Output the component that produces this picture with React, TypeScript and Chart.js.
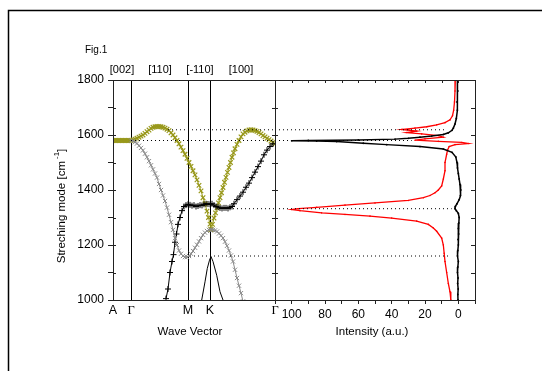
import React, { useEffect, useRef } from "react";
import { Chart, registerables } from "chart.js";
Chart.register(...registerables);

const W = 542;
const H = 371;
const FONT = "'Liberation Sans', Arial, sans-serif";
const SERIF = "'Liberation Serif', 'Times New Roman', serif";

// ---- Left panel: wave-vector path ----
const pathTickPos = [0, 18, 75, 97, 162];
const pathTickLabels = ["A", "Γ", "M", "K", "Γ"];
const directionLabels = ["[002]", "[110]", "[-110]", "[100]"];
const directionPos = [9, 47, 87, 128];

const waveTicks = [1000, 1100, 1200, 1300, 1400, 1500, 1600, 1700, 1800];
const waveLabelled = [1000, 1200, 1400, 1600, 1800];

// Olive branch A -> Γ -> K
const oliveAQ = [0, 1.5, 3, 4.5, 6, 7.5, 9, 10.5, 12, 13.5, 15, 16.5, 18, 20, 22, 24, 26, 28, 30, 32, 34, 36, 38, 40, 42, 44, 46, 48, 50, 52, 54, 56, 58, 60, 62, 64, 66, 68, 70, 72, 74, 76, 78, 80, 82, 84, 86, 88, 90, 92, 94, 95.5, 97, 98];
const oliveAW = [1580, 1580, 1580, 1580, 1580, 1580, 1580, 1580, 1580, 1580, 1580, 1580, 1580, 1582, 1585, 1588, 1592, 1596, 1600, 1606, 1612, 1618, 1624, 1628, 1630, 1631, 1631, 1630, 1628, 1625, 1621, 1616, 1608, 1600, 1590, 1580, 1568, 1556, 1543, 1530, 1515, 1500, 1486, 1470, 1455, 1437, 1417, 1397, 1372, 1350, 1323, 1300, 1276, 1256];
// Olive branch K -> Γ
const oliveBQ = [98, 99.5, 101, 102.5, 104, 105.5, 107, 108.5, 110, 111.5, 113, 114.5, 116, 117.5, 119, 120.5, 122, 124, 126, 128, 130, 132, 134, 136, 138, 140, 142, 144, 146, 148, 150, 152, 154, 156, 158, 160, 162];
const oliveBW = [1256, 1275, 1298, 1317, 1335, 1353, 1372, 1390, 1409, 1428, 1446, 1464, 1482, 1500, 1519, 1535, 1550, 1566, 1580, 1593, 1604, 1610, 1615, 1618, 1619, 1618, 1616, 1613, 1609, 1604, 1598, 1593, 1588, 1583, 1578, 1573, 1568];
// Gray branch
const grayQ = [18, 20, 22, 24, 26, 28, 30, 32, 34, 36, 38, 40, 42, 44, 46, 48, 50, 52, 54, 56, 58, 60, 62, 64, 66, 68, 70, 72, 74, 76, 78, 80, 82, 84, 86, 88, 90, 92, 94, 96, 98, 100, 102, 104, 106, 108, 110, 112, 114, 116, 118, 120, 122, 124, 126, 128, 130];
const grayW = [1580, 1578, 1574, 1569, 1561, 1553, 1544, 1532, 1519, 1505, 1490, 1475, 1460, 1445, 1422, 1400, 1380, 1360, 1336, 1310, 1283, 1255, 1225, 1200, 1180, 1168, 1160, 1156, 1156, 1160, 1168, 1178, 1190, 1201, 1213, 1225, 1237, 1245, 1251, 1255, 1256, 1255, 1253, 1249, 1242, 1234, 1225, 1212, 1197, 1180, 1162, 1140, 1110, 1080, 1052, 1025, 995];
// Black "+" branch
const plusQ = [53, 55, 57, 59, 60.5, 62, 63.5, 65, 67, 69, 71, 73, 75, 77, 79, 81, 83, 85, 87, 89, 91, 93, 95, 97, 99, 101, 103, 105, 107, 109, 111, 113, 115, 117, 119, 121, 124, 127, 130, 133, 136, 139, 142, 145, 148, 151, 154, 157, 160];
const plusW = [1005, 1040, 1100, 1140, 1165, 1210, 1240, 1275, 1300, 1325, 1340, 1345, 1348, 1346, 1343, 1345, 1340, 1342, 1345, 1344, 1348, 1350, 1349, 1348, 1350, 1345, 1340, 1338, 1335, 1333, 1335, 1335, 1333, 1337, 1340, 1350, 1365, 1378, 1392, 1410, 1425, 1445, 1465, 1485, 1505, 1528, 1545, 1558, 1568];
// Solid black branch near K
const kCurveQ = [88.7, 92, 94.3, 96.5, 98, 100, 103.7, 107, 110];
const kCurveW = [1000, 1066, 1115, 1145, 1158, 1140, 1090, 1030, 1000];

// Dotted mode lines
const modeWaves = [1619, 1580, 1332, 1160];
const modeStartQ = [55, 18, 120, 77];
const modeEndI = [7, 28, 4, 6];

// ---- Right panel: spectra ----
const intensityTicks = [110, 100, 90, 80, 70, 60, 50, 40, 30, 20, 10, 0, -10];
const intensityLabelled = [100, 80, 60, 40, 20, 0];

const blackWave = [1800, 1760, 1720, 1690, 1660, 1640, 1625, 1617, 1608, 1602, 1596, 1592, 1588, 1585, 1582, 1580, 1579, 1578, 1576, 1570, 1565, 1558, 1549, 1537, 1520, 1500, 1480, 1460, 1440, 1420, 1400, 1380, 1365, 1350, 1340, 1332, 1325, 1315, 1300, 1280, 1260, 1240, 1220, 1200, 1180, 1160, 1140, 1120, 1100, 1080, 1060, 1040, 1020, 1000];
const blackInt = [0.5, 0.3, 0.8, 0.6, 1.2, 2, 3, 3.8, 6, 9, 16, 23, 30, 38, 60, 90, 100, 85, 73, 57, 43, 23, 9, 3.8, 1.5, 0.8, 0.5, 0, -0.5, -1, -1.5, -1.2, -0.5, 0.8, 1.8, 2, 1.2, 0, -0.5, -0.3, 0, -0.2, 0.2, 0, 0.3, 0.5, 0, 0.3, 0.5, 0.2, 0.4, 0.1, 0.3, 0.2];

const redWave = [1800, 1760, 1720, 1690, 1670, 1655, 1645, 1637, 1630, 1625, 1620, 1614, 1609, 1604, 1598, 1592, 1586, 1581, 1577, 1573, 1569, 1565, 1558, 1545, 1530, 1500, 1470, 1440, 1415, 1400, 1390, 1380, 1372, 1362, 1353, 1345, 1337, 1332, 1329, 1325, 1317, 1311, 1305, 1298, 1287, 1275, 1262, 1250, 1225, 1200, 1170, 1140, 1100, 1060, 1030, 1000];
const redInt = [1.8, 2, 2.3, 2.8, 3.5, 5, 8, 13, 19, 26, 34, 25, 31, 22, 12, 9, 20, 26, 12, -2, -6, 2, 5.5, 6.5, 7, 8, 8, 9, 10, 12, 14, 17, 21, 30, 50, 68, 85, 96, 100, 95, 82, 68, 53, 40, 25, 18, 15, 13, 10, 9, 8.5, 8, 7, 6, 5, 4.5];

const OLIVE = "#98981a";
const GRAY = "#8a8a8a";

const pts = (xs: number[], ys: number[]) => xs.map((x, i) => ({ x, y: ys[i] }));

function crisp(v: number) {
  return Math.round(v) + 0.5;
}

const leftDecor = {
  id: "leftDecor",
  beforeDatasetsDraw(chart: any) {
    const { ctx, chartArea, scales } = chart;
    ctx.save();
    ctx.strokeStyle = "#000";
    ctx.lineWidth = 1;
    for (let i = 1; i < pathTickPos.length - 1; i++) {
      const px = crisp(scales.x.getPixelForValue(pathTickPos[i]));
      ctx.beginPath();
      ctx.moveTo(px, chartArea.top);
      ctx.lineTo(px, chartArea.bottom);
      ctx.stroke();
    }
    ctx.restore();
  },
  afterDraw(chart: any) {
    const { ctx, chartArea, scales } = chart;
    const { left, right, top, bottom } = chartArea;
    ctx.save();
    // page frame
    ctx.strokeStyle = "#000";
    ctx.lineWidth = 1.5;
    ctx.beginPath();
    ctx.moveTo(8.5, H);
    ctx.lineTo(8.5, 10.5);
    ctx.lineTo(W, 10.5);
    ctx.stroke();
    // panel frame
    ctx.lineWidth = 1;
    ctx.strokeStyle = "#222";
    ctx.strokeRect(crisp(left), crisp(top), Math.round(right - left), Math.round(bottom - top));
    // inward ticks
    for (const v of waveTicks) {
      const py = crisp(scales.y.getPixelForValue(v));
      ctx.beginPath();
      ctx.moveTo(left, py);
      ctx.lineTo(left + 3, py);
      ctx.moveTo(right, py);
      ctx.lineTo(right - 3, py);
      ctx.stroke();
    }
    // texts
    ctx.fillStyle = "#000";
    ctx.textBaseline = "middle";
    ctx.textAlign = "left";
    ctx.font = `10px ${FONT}`;
    ctx.fillText("Fig.1", 85, 50);
    ctx.textAlign = "center";
    ctx.font = `11px ${FONT}`;
    directionLabels.forEach((t, i) => {
      ctx.fillText(t, scales.x.getPixelForValue(directionPos[i]), 70);
    });
    ctx.font = `11.5px ${FONT}`;
    ctx.fillText("Wave Vector", 190, 332);
    // y title
    ctx.translate(62, 206);
    ctx.rotate(-Math.PI / 2);
    const main = "Streching mode [cm";
    const sup = "-1";
    const end = "]";
    ctx.font = `11.5px ${FONT}`;
    const wMain = ctx.measureText(main).width;
    const wEnd = ctx.measureText(end).width;
    ctx.font = `8px ${FONT}`;
    const wSup = ctx.measureText(sup).width;
    const total = wMain + 2 + wSup + wEnd;
    let x0 = -total / 2;
    ctx.textAlign = "left";
    ctx.font = `11.5px ${FONT}`;
    ctx.fillText(main, x0, 0);
    x0 += wMain + 2;
    ctx.font = `8px ${FONT}`;
    ctx.fillText(sup, x0, -5);
    x0 += wSup;
    ctx.font = `11.5px ${FONT}`;
    ctx.fillText(end, x0, 0);
    ctx.restore();
  },
};

const rightDecor = {
  id: "rightDecor",
  afterDraw(chart: any) {
    const { ctx, chartArea, scales } = chart;
    const { left, right, top, bottom } = chartArea;
    ctx.save();
    ctx.strokeStyle = "#222";
    ctx.lineWidth = 1;
    ctx.strokeRect(crisp(left), crisp(top), Math.round(right - left), Math.round(bottom - top));
    for (const v of intensityTicks) {
      const px = crisp(scales.x.getPixelForValue(v));
      ctx.beginPath();
      ctx.moveTo(px, top);
      ctx.lineTo(px, top + 3);
      ctx.stroke();
    }
    for (const v of waveTicks) {
      const py = crisp(scales.y.getPixelForValue(v));
      ctx.beginPath();
      ctx.moveTo(left, py);
      ctx.lineTo(left + 3, py);
      ctx.moveTo(right, py);
      ctx.lineTo(right - 4, py);
      ctx.stroke();
    }
    ctx.fillStyle = "#000";
    ctx.textAlign = "center";
    ctx.textBaseline = "middle";
    ctx.font = `11.5px ${FONT}`;
    ctx.fillText("Intensity (a.u.)", 372, 332);
    ctx.restore();
  },
};

const dotted = (data: any[]) => ({
  data,
  borderColor: "#000",
  borderWidth: 1,
  borderDash: [1, 3],
  pointRadius: 0,
  fill: false,
});

function leftConfig(): any {
  const datasets: any[] = [];
  modeWaves.forEach((w, i) => {
    datasets.push(dotted([{ x: modeStartQ[i], y: w }, { x: 162, y: w }]));
  });
  datasets.push({
    data: pts(kCurveQ, kCurveW),
    borderColor: "#000",
    borderWidth: 1,
    pointRadius: 0,
    fill: false,
  });
  datasets.push({
    data: pts(grayQ, grayW),
    borderColor: GRAY,
    borderWidth: 1,
    pointStyle: "crossRot",
    pointRadius: 3,
    pointBorderWidth: 1,
    pointBorderColor: GRAY,
    fill: false,
  });
  datasets.push({
    data: pts(plusQ, plusW),
    borderColor: "#000",
    borderWidth: 1,
    pointStyle: "cross",
    pointRadius: 3,
    pointBorderWidth: 1,
    pointBorderColor: "#000",
    fill: false,
  });
  datasets.push({
    data: pts(oliveAQ, oliveAW),
    borderColor: OLIVE,
    borderWidth: 1,
    pointStyle: "crossRot",
    pointRadius: 3.2,
    pointBorderWidth: 1.2,
    pointBorderColor: OLIVE,
    fill: false,
  });
  datasets.push({
    data: pts(oliveBQ, oliveBW),
    borderColor: OLIVE,
    borderWidth: 1,
    pointStyle: "crossRot",
    pointRadius: 3.2,
    pointBorderWidth: 1.2,
    pointBorderColor: OLIVE,
    fill: false,
  });
  return {
    type: "line",
    data: { datasets },
    options: {
      animation: false,
      responsive: false,
      events: [],
      layout: { padding: { left: 0, right: W - 275, top: 80, bottom: 0 } },
      plugins: { legend: { display: false }, tooltip: { enabled: false } },
      scales: {
        x: {
          type: "linear",
          min: 0,
          max: 162,
          afterFit: (s: any) => {
            s.height = H - 300;
          },
          afterBuildTicks: (s: any) => {
            s.ticks = pathTickPos.map((v) => ({ value: v }));
          },
          grid: { display: false, drawTicks: false, tickLength: 0 },
          border: { display: false },
          ticks: {
            autoSkip: false,
            maxRotation: 0,
            padding: 3,
            color: "#000",
            callback: (_v: any, i: number) => pathTickLabels[i],
            font: (c: any) => ({
              family: pathTickLabels[c.index] === "Γ" ? SERIF : FONT,
              size: 12.5,
            }),
          },
        },
        y: {
          type: "linear",
          min: 1000,
          max: 1800,
          afterFit: (s: any) => {
            s.width = 113;
          },
          afterBuildTicks: (s: any) => {
            s.ticks = waveTicks.map((v) => ({ value: v }));
          },
          grid: { drawOnChartArea: false, tickLength: 5, color: "#222" },
          border: { display: false },
          ticks: {
            autoSkip: false,
            padding: 4,
            color: "#000",
            font: { family: FONT, size: 12 },
            callback: (v: any) => (waveLabelled.includes(v) ? String(v) : ""),
          },
        },
      },
    },
    plugins: [leftDecor],
  };
}

function rightConfig(): any {
  const datasets: any[] = [];
  modeWaves.forEach((w, i) => {
    datasets.push(dotted([{ x: 110, y: w }, { x: modeEndI[i], y: w }]));
  });
  datasets.push({
    data: pts(blackInt, blackWave),
    borderColor: "#000",
    borderWidth: 1.5,
    pointRadius: 0.9,
    pointBackgroundColor: "#000",
    pointBorderWidth: 0,
    fill: false,
  });
  datasets.push({
    data: pts(redInt, redWave),
    borderColor: "#ff0000",
    borderWidth: 1.3,
    pointRadius: 0.8,
    pointBackgroundColor: "#ff0000",
    pointBorderWidth: 0,
    fill: false,
  });
  return {
    type: "line",
    data: { datasets },
    options: {
      animation: false,
      responsive: false,
      events: [],
      layout: { padding: { left: 275, right: W - 475, top: 80, bottom: 0 } },
      plugins: { legend: { display: false }, tooltip: { enabled: false } },
      scales: {
        x: {
          type: "linear",
          min: -10,
          max: 110,
          reverse: true,
          afterFit: (s: any) => {
            s.height = H - 300;
          },
          afterBuildTicks: (s: any) => {
            s.ticks = intensityTicks.map((v) => ({ value: v }));
          },
          grid: { drawOnChartArea: false, tickLength: 4, color: "#222" },
          border: { display: false },
          ticks: {
            autoSkip: false,
            maxRotation: 0,
            padding: 3,
            color: "#000",
            font: { family: FONT, size: 12 },
            callback: (v: any) => (intensityLabelled.includes(v) ? String(v) : ""),
          },
        },
        y: {
          type: "linear",
          min: 1000,
          max: 1800,
          display: false,
        },
      },
    },
    plugins: [rightDecor],
  };
}

export default function App() {
  const leftRef = useRef<HTMLCanvasElement>(null);
  const rightRef = useRef<HTMLCanvasElement>(null);
  useEffect(() => {
    const l = new Chart(leftRef.current as HTMLCanvasElement, leftConfig());
    const r = new Chart(rightRef.current as HTMLCanvasElement, rightConfig());
    return () => {
      l.destroy();
      r.destroy();
    };
  }, []);
  const cs: React.CSSProperties = { position: "absolute", left: 0, top: 0, width: W, height: H };
  return (
    <div style={{ position: "fixed", left: 0, top: 0, width: W, height: H, background: "#fff" }}>
      <canvas ref={leftRef} width={W} height={H} style={cs} />
      <canvas ref={rightRef} width={W} height={H} style={cs} />
    </div>
  );
}
